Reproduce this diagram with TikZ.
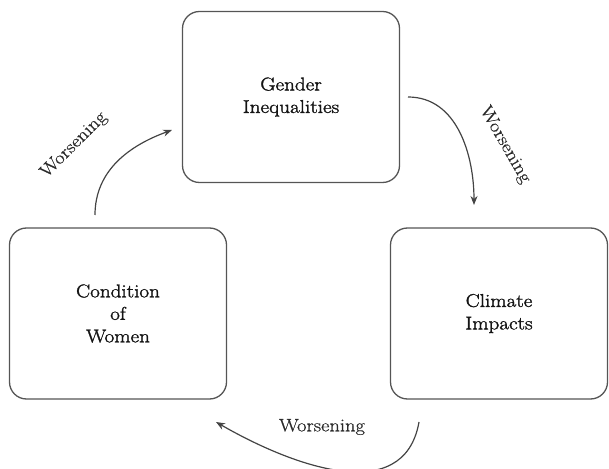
\documentclass[tikz,border=0pt]{standalone}
\usepackage{fontspec}
\setmainfont{Latin Modern Roman}[FakeStretch=1.14]
\newfontfamily\boxfont{Latin Modern Roman}[FakeStretch=1.14,FakeBold=1.6]
\newfontfamily\labfont{Latin Modern Roman}[FakeStretch=1.14,FakeBold=0.6]
\usetikzlibrary{arrows.meta}
\definecolor{linegray}{HTML}{555555}
\definecolor{arrgray}{HTML}{444444}
\definecolor{labgray}{HTML}{2A2A2A}
\begin{document}
\begin{tikzpicture}[x=1pt,y=1pt,
  box/.style={draw=linegray, line width=1.3pt, rounded corners=17pt,
    minimum width=217pt, minimum height=171pt, align=center, inner sep=0pt,
    font=\boxfont\fontsize{18.5}{22.5}\selectfont, text=black!92},
  link/.style={draw=arrgray, line width=1.2pt, -{Stealth[length=9pt,width=7pt]}},
  lab/.style={font=\labfont\fontsize{18}{22}\selectfont, text=labgray, inner sep=0pt}]
\useasboundingbox (0,0) rectangle (609,468);
\node[box] (gi) at (291,371) {Gender\\Inequalities};
\node[box] (cw) at (118,154.5) {Condition\\of\\Women};
\node[box] (ci) at (499,154.5) {Climate\\Impacts};
\coordinate (a1) at (95,253);
\coordinate (a2) at (172,338);
\coordinate (b1) at (408,371);
\coordinate (b2) at (474,263);
\coordinate (c1) at (419,46);
\coordinate (c2) at (216,46);
\draw[link] (a1) to[out=90,in=200] (a2);
\draw[link] (b1) to[out=0,in=90] (b2);
\draw[link] (c1) to[out=-100,in=-30,looseness=1.1] (c2);
\node[lab, rotate=45] (l1) at (74,323) {Worsening};
\node[lab, rotate=-60] (l2) at (505,323) {Worsening};
\node[lab] (l3) at (322,41) {Worsening};
\end{tikzpicture}
\end{document}
